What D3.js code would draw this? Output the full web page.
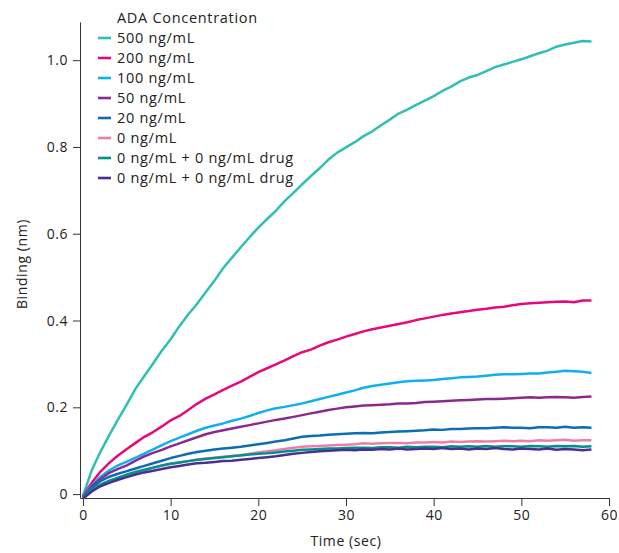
<!DOCTYPE html>
<html>
<head>
<meta charset="utf-8">
<script src="https://cdn.jsdelivr.net/npm/d3@7"></script>
<style>
  body { margin: 0; background: #fff; }
  svg { font-family: "Open Sans", Lato, sans-serif; }
</style>
</head>
<body>
<svg width="619" height="553"></svg>
<script>
    // time points (sec), one reading per second
    var times = d3.range(0, 59)

    var labels = ['500 ng/mL', '200 ng/mL', '100 ng/mL', '50 ng/mL', '20 ng/mL', '0 ng/mL',
      '0 ng/mL + 0 ng/mL drug', '0 ng/mL + 0 ng/mL drug']
    var colors = ['#2fbfb4', '#e8087e', '#10b0ee', '#8b2a8e', '#0c6db3', '#f07ca9', '#00918c', '#4a2f91']

    var ada500 = [-0.004, 0.055, 0.098, 0.136, 0.172, 0.207, 0.243, 0.272, 0.301, 0.331,
      0.357, 0.387, 0.414, 0.438, 0.465, 0.492, 0.521, 0.545, 0.569, 0.592,
      0.614, 0.634, 0.653, 0.675, 0.694, 0.714, 0.733, 0.751, 0.771, 0.787,
      0.799, 0.811, 0.825, 0.836, 0.850, 0.863, 0.877, 0.886, 0.897, 0.907,
      0.917, 0.929, 0.939, 0.951, 0.960, 0.966, 0.975, 0.984, 0.990, 0.996,
      1.002, 1.009, 1.016, 1.022, 1.031, 1.036, 1.040, 1.044, 1.043]
    var ada200 = [-0.004, 0.026, 0.052, 0.072, 0.089, 0.104, 0.118, 0.132, 0.143, 0.156,
      0.170, 0.180, 0.194, 0.208, 0.220, 0.230, 0.240, 0.250, 0.259, 0.270,
      0.281, 0.290, 0.299, 0.308, 0.318, 0.327, 0.333, 0.342, 0.350, 0.356,
      0.363, 0.369, 0.375, 0.380, 0.384, 0.388, 0.392, 0.396, 0.401, 0.405,
      0.409, 0.413, 0.416, 0.419, 0.422, 0.425, 0.427, 0.430, 0.432, 0.435,
      0.438, 0.440, 0.441, 0.442, 0.443, 0.444, 0.442, 0.446, 0.446]
    var ada100 = [-0.004, 0.020, 0.040, 0.055, 0.066, 0.075, 0.084, 0.093, 0.103, 0.113,
      0.122, 0.130, 0.138, 0.146, 0.153, 0.158, 0.163, 0.169, 0.174, 0.180,
      0.187, 0.193, 0.198, 0.201, 0.205, 0.209, 0.214, 0.219, 0.224, 0.229,
      0.234, 0.239, 0.245, 0.249, 0.252, 0.255, 0.258, 0.260, 0.261, 0.262,
      0.263, 0.265, 0.267, 0.269, 0.270, 0.271, 0.273, 0.275, 0.276, 0.276,
      0.277, 0.278, 0.278, 0.280, 0.282, 0.284, 0.283, 0.282, 0.279]
    var ada50 = [-0.006, 0.018, 0.035, 0.049, 0.058, 0.066, 0.077, 0.087, 0.095, 0.102,
      0.110, 0.117, 0.124, 0.131, 0.138, 0.143, 0.147, 0.151, 0.155, 0.159,
      0.163, 0.167, 0.171, 0.174, 0.178, 0.182, 0.186, 0.190, 0.194, 0.197,
      0.200, 0.202, 0.204, 0.205, 0.206, 0.207, 0.209, 0.209, 0.210, 0.212,
      0.213, 0.214, 0.215, 0.216, 0.217, 0.218, 0.219, 0.219, 0.220, 0.221,
      0.222, 0.223, 0.222, 0.223, 0.224, 0.223, 0.222, 0.224, 0.225]
    var ada20 = [-0.008, 0.014, 0.030, 0.040, 0.047, 0.053, 0.059, 0.065, 0.071, 0.077,
      0.083, 0.088, 0.093, 0.097, 0.100, 0.103, 0.105, 0.107, 0.109, 0.112,
      0.115, 0.118, 0.121, 0.124, 0.128, 0.132, 0.134, 0.135, 0.137, 0.138,
      0.139, 0.140, 0.141, 0.140, 0.142, 0.143, 0.144, 0.145, 0.146, 0.147,
      0.149, 0.148, 0.150, 0.150, 0.151, 0.152, 0.152, 0.153, 0.154, 0.153,
      0.153, 0.152, 0.154, 0.154, 0.153, 0.155, 0.153, 0.154, 0.153]
    var ada0 = [-0.010, 0.008, 0.020, 0.029, 0.037, 0.044, 0.050, 0.055, 0.061, 0.066,
      0.070, 0.073, 0.076, 0.079, 0.082, 0.084, 0.086, 0.088, 0.090, 0.093,
      0.096, 0.099, 0.101, 0.104, 0.107, 0.109, 0.110, 0.111, 0.112, 0.113,
      0.114, 0.115, 0.117, 0.116, 0.117, 0.118, 0.118, 0.117, 0.119, 0.119,
      0.120, 0.119, 0.121, 0.120, 0.121, 0.122, 0.121, 0.122, 0.123, 0.122,
      0.123, 0.122, 0.124, 0.123, 0.124, 0.125, 0.123, 0.124, 0.124]
    var drugA = [-0.008, 0.010, 0.022, 0.031, 0.038, 0.045, 0.051, 0.056, 0.061, 0.066,
      0.070, 0.073, 0.076, 0.079, 0.081, 0.083, 0.085, 0.087, 0.089, 0.091,
      0.093, 0.094, 0.096, 0.098, 0.100, 0.102, 0.103, 0.104, 0.105, 0.105,
      0.106, 0.107, 0.107, 0.106, 0.108, 0.108, 0.107, 0.109, 0.108, 0.109,
      0.109, 0.108, 0.110, 0.109, 0.110, 0.109, 0.111, 0.109, 0.110, 0.110,
      0.109, 0.111, 0.110, 0.109, 0.111, 0.110, 0.111, 0.109, 0.110]
    var drugB = [-0.010, 0.006, 0.018, 0.026, 0.033, 0.039, 0.045, 0.050, 0.054, 0.058,
      0.062, 0.065, 0.068, 0.071, 0.072, 0.074, 0.076, 0.077, 0.079, 0.081,
      0.083, 0.085, 0.087, 0.090, 0.093, 0.095, 0.097, 0.099, 0.100, 0.101,
      0.102, 0.101, 0.103, 0.102, 0.104, 0.103, 0.105, 0.103, 0.104, 0.105,
      0.104, 0.106, 0.104, 0.105, 0.103, 0.105, 0.104, 0.106, 0.104, 0.103,
      0.105, 0.104, 0.103, 0.105, 0.102, 0.104, 0.103, 0.101, 0.103]

    var series = [ada500, ada200, ada100, ada50, ada20, ada0, drugA, drugB]

    var xTicks = [0, 10, 20, 30, 40, 50, 60]
    var yTicks = [0, 0.2, 0.4, 0.6, 0.8, 1.0]

    var margin = { top: 22, right: 10, bottom: 55, left: 80 }
    var width = 619
    var height = 553
    var font = '"Open Sans", sans-serif'

    var xScale = d3.scaleLinear()
      .domain([-0.34, 60])
      .range([margin.left, width - margin.right])

    var yScale = d3.scaleLinear()
      .domain([-0.009, 1.088])
      .range([height - margin.bottom, margin.top])

    var svg = d3.select('svg')

    var xAxis = d3.axisBottom(xScale).tickValues(xTicks).tickSize(8).tickPadding(4).tickSizeOuter(0)
    var yAxis = d3.axisLeft(yScale).tickValues(yTicks).tickSize(7).tickPadding(5).tickSizeOuter(0)
      .tickFormat(d => d === 0 ? '0' : d3.format('.1f')(d))

    var gx = svg.append('g')
      .attr('transform', 'translate(' + [0, height - margin.bottom] + ')')
      .call(xAxis)
    var gy = svg.append('g')
      .attr('transform', 'translate(' + [margin.left, 0] + ')')
      .call(yAxis)

    ;[gx, gy].forEach(g => {
      g.selectAll('path, line').attr('stroke', '#333').attr('stroke-width', 1)
      g.selectAll('text').attr('fill', '#222').style('font-size', '14px').style('font-family', font)
        .style('letter-spacing', '0.5px')
    })

    var line = d3.line()
      .x((d, i) => xScale(times[i]))
      .y(d => yScale(d))

    svg.append('g').selectAll('path')
      .data(series)
      .enter().append('path')
      .attr('d', d => line(d))
      .attr('fill', 'none')
      .attr('stroke', (d, i) => colors[i])
      .attr('stroke-width', 2.5)
      .attr('stroke-linejoin', 'round')

    // axis titles
    svg.append('text')
      .attr('x', 346)
      .attr('y', 546)
      .attr('text-anchor', 'middle')
      .style('font-size', '14px')
      .style('letter-spacing', '0.6px')
      .attr('fill', '#222')
      .text('Time (sec)')

    svg.append('text')
      .attr('transform', 'translate(27,' + 264 + ') rotate(-90)')
      .attr('text-anchor', 'middle')
      .style('font-size', '14px')
      .style('letter-spacing', '0.6px')
      .attr('fill', '#222')
      .text('Binding (nm)')

    // legend
    var legend = svg.append('g')
      .style('font-size', '14.5px')
      .style('letter-spacing', '0.7px')
    legend.append('text')
      .attr('x', 117).attr('y', 23)
      .attr('fill', '#222')
      .text('ADA Concentration')

    var items = legend.selectAll('g.item')
      .data(labels)
      .enter().append('g')
      .attr('class', 'item')
      .attr('transform', (d, i) => 'translate(' + [0, 38 + i * 20] + ')')
    items.append('line')
      .attr('x1', 98).attr('x2', 111)
      .attr('stroke', (d, i) => colors[i])
      .attr('stroke-width', 2.6)
    items.append('text')
      .attr('x', 117).attr('y', 5)
      .attr('fill', '#222')
      .text(d => d)
</script>
</body>
</html>
